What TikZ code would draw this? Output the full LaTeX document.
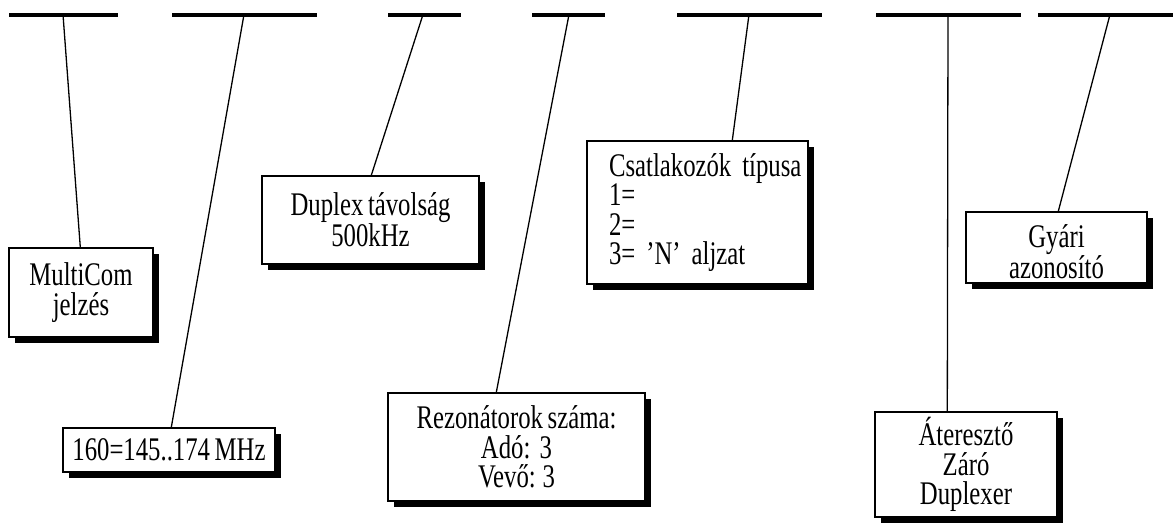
\documentclass[tikz,border=0pt]{standalone}
\usepackage{fontspec}
\setmainfont{Liberation Serif}[FakeStretch=0.75,WordSpace=0.75]
\usetikzlibrary{shadows}
\begin{document}
\begin{tikzpicture}[x=1pt,y=-1pt,
  bar/.style={line width=4pt},
  conn/.style={line width=1.3pt},
  infobox/.style={draw, line width=1.4pt, fill=white, inner sep=0pt, align=center,
    font=\fontsize{33}{29.5}\selectfont,
    drop shadow={fill=black, opacity=1, shadow xshift=6pt, shadow yshift=-6pt}}]
\useasboundingbox (0,0) rectangle (1173,523);
% top bars
\draw[bar] (9,14.5) -- (118,14.5);
\draw[bar] (172,14.5) -- (317,14.5);
\draw[bar] (388,14.5) -- (461,14.5);
\draw[bar] (532,14.5) -- (605,14.5);
\draw[bar] (677,14.5) -- (822,14.5);
\draw[bar] (876,14.5) -- (1021,14.5);
\draw[bar] (1038,14.5) -- (1173,14.5);
\coordinate (b1) at (63,14.5);
\coordinate (b2) at (244,14.5);
\coordinate (b3) at (423,14.5);
\coordinate (b4) at (569,14.5);
\coordinate (b5) at (749,14.5);
\coordinate (b6) at (948,14.5);
\coordinate (b7) at (1110,14.5);
% boxes
\node[infobox, minimum width=144pt, minimum height=89pt] (m1) at (81,292.5) {MultiCom\\jelzés};
\node[infobox, minimum width=212pt, minimum height=44pt] (m2) at (169,450) {160=145..174 MHz};
\node[infobox, minimum width=217pt, minimum height=88pt] (m3) at (370.5,220) {Duplex távolság\\500kHz};
\node[infobox, minimum width=257pt, minimum height=108pt] (m4) at (516.5,447) {Rezonátorok száma:\\Adó:\ \ 3\\Vevő: 3};
\node[infobox, minimum width=221pt, minimum height=143pt, text width=177pt, align=left] (m5) at (697.5,212.5) {\mbox{Csatlakozók típusa}\\1=\\2=\\3= ’N’ aljzat};
\node[infobox, minimum width=181pt, minimum height=71pt] (m6) at (1056.5,247.5) {\rule{0pt}{32pt}Gyári\\azonosító};
\node[infobox, minimum width=182pt, minimum height=105pt] (m7) at (966,464.5) {Áteresztő\\Záró\\Duplexer};
% connectors
\draw[conn] (b1) -- ([xshift=72pt]m1.north west);
\draw[conn] (b2) -- ([xshift=109pt]m2.north west);
\draw[conn] (b3) -- ([xshift=110pt]m3.north west);
\draw[conn] (b4) -- ([xshift=109pt]m4.north west);
\draw[conn] (b5) -- ([xshift=146pt]m5.north west);
\draw[conn] (b6) -- ([xshift=73pt]m7.north west);
\draw[conn] (b7) -- ([xshift=93pt]m6.north west);
\end{tikzpicture}
\end{document}
